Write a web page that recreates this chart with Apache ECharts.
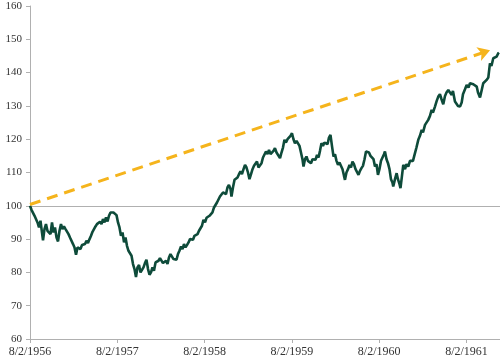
<!DOCTYPE html>
<html>
<head>
<meta charset="utf-8">
<script src="https://cdn.jsdelivr.net/npm/echarts@6/dist/echarts.min.js"></script>
<style>html,body{margin:0;padding:0;background:#fff;}#c{width:500px;height:362px;}</style>
</head>
<body>
<div id="c"></div>
<script>
// years elapsed since 8/2/1956
var yearsSince = [0,0.017,0.034,0.052,0.069,0.086,0.103,0.120,0.137,0.149,0.166,0.183,0.200,0.218,0.235,0.252,0.269,0.286,0.304,0.321,0.338,0.355,0.372,0.389,0.407,0.424,0.441,0.458,0.475,0.493,0.510,0.527,0.544,0.561,0.578,0.596,0.613,0.630,0.647,0.664,0.682,0.699,0.716,0.733,0.750,0.767,0.785,0.802,0.819,0.836,0.853,0.871,0.888,0.905,0.922,0.939,0.956,0.974,0.991,1.008,1.025,1.042,1.060,1.077,1.094,1.111,1.128,1.145,1.163,1.180,1.197,1.214,1.231,1.249,1.266,1.283,1.300,1.317,1.334,1.352,1.369,1.386,1.403,1.420,1.438,1.455,1.472,1.489,1.506,1.523,1.541,1.558,1.575,1.592,1.609,1.627,1.644,1.661,1.678,1.695,1.712,1.730,1.747,1.764,1.781,1.798,1.816,1.833,1.850,1.867,1.884,1.901,1.919,1.936,1.953,1.970,1.987,2.005,2.022,2.039,2.056,2.073,2.090,2.108,2.125,2.142,2.159,2.176,2.194,2.211,2.228,2.245,2.262,2.279,2.297,2.308,2.325,2.343,2.360,2.377,2.394,2.411,2.428,2.446,2.463,2.480,2.497,2.514,2.532,2.549,2.566,2.583,2.600,2.617,2.635,2.652,2.669,2.686,2.703,2.721,2.738,2.755,2.772,2.789,2.806,2.824,2.841,2.864,2.881,2.898,2.915,2.932,2.950,2.967,2.984,3.001,3.018,3.035,3.053,3.070,3.087,3.104,3.121,3.133,3.150,3.167,3.184,3.202,3.219,3.236,3.253,3.270,3.288,3.305,3.322,3.339,3.356,3.373,3.391,3.408,3.425,3.442,3.459,3.477,3.494,3.511,3.528,3.545,3.562,3.580,3.597,3.608,3.625,3.643,3.660,3.677,3.694,3.711,3.729,3.746,3.763,3.780,3.797,3.814,3.832,3.849,3.866,3.883,3.900,3.918,3.935,3.952,3.969,3.986,4.003,4.021,4.038,4.055,4.066,4.084,4.101,4.118,4.135,4.152,4.161,4.181,4.200,4.215,4.233,4.244,4.261,4.276,4.296,4.313,4.333,4.353,4.370,4.387,4.410,4.427,4.448,4.467,4.487,4.502,4.525,4.542,4.562,4.582,4.601,4.616,4.639,4.659,4.677,4.696,4.714,4.734,4.754,4.771,4.792,4.811,4.831,4.845,4.868,4.888,4.903,4.926,4.945,4.960,4.983,5.002,5.023,5.040,5.060,5.078,5.097,5.117,5.132,5.155,5.172,5.192,5.212,5.231,5.250,5.269,5.286,5.307,5.326,5.345,5.364,5.372];

var indexValues = [100.0,98.8,99.3,97.0,96.4,95.0,93.5,95.5,92.0,89.6,93.0,94.5,92.5,93.0,91.5,95.0,92.0,93.5,90.5,89.3,92.5,94.5,93.0,93.8,93.0,93.5,91.5,90.5,90.8,88.5,87.5,85.3,87.5,88.0,87.0,88.2,87.7,88.5,89.5,88.8,90.0,91.0,92.2,92.8,93.8,94.5,94.0,95.2,94.5,96.0,95.0,96.5,95.3,97.0,98.0,98.6,98.0,97.5,97.2,95.0,93.5,91.0,92.0,89.0,90.5,88.0,86.5,86.0,85.0,82.5,81.0,78.6,81.5,82.2,80.0,79.8,81.5,82.8,83.8,81.0,79.3,80.0,81.5,80.5,83.0,82.5,83.5,84.3,84.8,82.8,83.0,83.5,82.5,84.5,85.5,85.0,84.0,84.5,83.8,85.5,86.5,87.8,87.0,88.5,87.5,88.2,89.0,90.0,90.4,89.8,91.0,90.8,91.5,92.5,92.3,94.0,95.8,95.0,96.4,96.0,97.0,97.5,98.0,99.5,99.8,101.0,101.5,102.8,102.3,104.0,104.3,103.5,105.5,106.3,105.0,102.8,105.5,107.8,107.5,108.5,109.5,110.3,109.5,111.0,112.3,111.5,110.0,108.0,109.5,111.0,112.0,112.5,113.3,111.5,112.0,112.8,114.5,115.0,116.3,115.5,116.8,115.5,115.8,116.5,117.3,116.0,115.8,114.3,116.0,117.5,119.8,119.0,120.0,120.5,121.0,121.8,120.0,118.8,119.5,119.8,118.0,116.0,114.0,111.8,114.0,114.8,113.5,114.0,112.8,114.0,114.5,113.8,115.3,114.5,116.5,118.8,118.0,119.0,119.3,118.5,120.5,121.3,118.0,114.8,115.5,113.5,112.3,113.0,112.8,111.0,109.0,107.8,110.0,111.0,112.3,111.5,113.3,112.5,111.0,110.5,109.3,110.5,111.3,112.0,114.0,116.3,115.8,116.0,115.0,115.3,114.0,111.8,112.5,109.3,111.0,113.5,114.5,115.5,116.3,114.0,112.8,111.0,108.0,107.0,105.8,108.0,109.8,108.0,106.5,105.3,109.0,112.3,111.0,112.5,111.8,113.5,114.0,113.5,115.8,117.5,119.8,121.0,122.8,122.0,124.3,124.0,125.8,127.0,128.8,128.0,129.8,131.5,132.8,133.5,132.0,130.5,133.0,134.0,134.8,134.0,133.3,134.5,131.3,131.8,130.0,129.8,131.0,133.5,135.0,136.3,135.5,136.8,137.3,136.5,136.0,135.8,134.0,132.5,134.5,136.8,137.0,137.8,138.5,142.8,142.0,144.3,144.0,144.8,145.8,146.0];

// trend arrow endpoints [yearsSince, value]
var trendStart = [0, 100.4];
var trendEnd = [5.27, 146.7];

var tickYears = [0, 1, 2, 3, 4, 5];
var tickLabels = ['8/2/1956', '8/2/1957', '8/2/1958', '8/2/1959', '8/2/1960', '8/2/1961'];

var seriesData = yearsSince.map(function (t, i) { return [t, indexValues[i]]; });

var chart = echarts.init(document.getElementById('c'), null, { renderer: 'canvas' });
var font = 'Liberation Serif';
chart.setOption({
  animation: false,
  backgroundColor: '#ffffff',
  grid: { left: 30, right: 0, top: 6, bottom: 23, containLabel: false },
  xAxis: {
    type: 'value',
    min: 0,
    max: 5.384,
    interval: 1,
    axisLine: { show: true, lineStyle: { color: '#b0b0b0', width: 1 } },
    axisTick: { show: true, length: 4, customValues: tickYears, lineStyle: { color: '#b0b0b0' } },
    axisLabel: {
      customValues: tickYears,
      margin: 7,
      color: '#333333',
      fontFamily: font,
      fontSize: 12,
      formatter: function (v) {
        var idx = tickYears.indexOf(Math.round(v));
        return idx >= 0 && Math.abs(v - Math.round(v)) < 1e-6 ? tickLabels[idx] : '';
      }
    },
    splitLine: { show: false }
  },
  yAxis: {
    type: 'value',
    min: 60,
    max: 160,
    interval: 10,
    axisLine: { show: true, lineStyle: { color: '#b0b0b0', width: 1 } },
    axisTick: { show: true, length: 4, lineStyle: { color: '#b0b0b0' } },
    axisLabel: { margin: 8, color: '#333333', fontFamily: font, fontSize: 11 },
    splitLine: { show: false }
  },
  series: [
    {
      type: 'line',
      data: seriesData,
      showSymbol: false,
      symbol: 'none',
      lineStyle: { color: '#0E4B3A', width: 2.6 },
      z: 3,
      markLine: {
        silent: true,
        symbol: ['none', 'none'],
        label: { show: false },
        lineStyle: { color: '#b0b0b0', width: 1, type: 'solid' },
        data: [{ yAxis: 100 }],
        z: 1
      }
    },
    {
      type: 'line',
      data: [],
      markLine: {
        silent: true,
        symbol: ['none', 'arrow'],
        symbolSize: [11, 12],
        label: { show: false },
        lineStyle: { color: '#F5B41C', width: 3, type: [11, 7] },
        data: [[{ coord: trendStart }, { coord: trendEnd }]]
      },
      z: 4
    }
  ]
});
</script>
</body>
</html>
